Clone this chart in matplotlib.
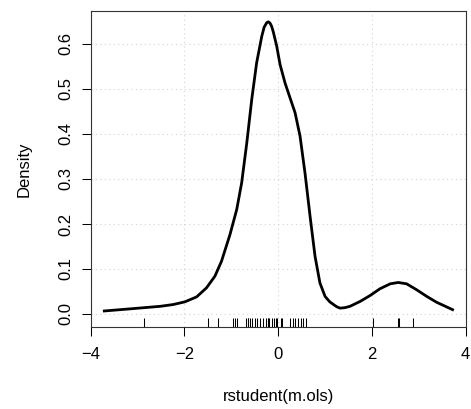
import matplotlib
matplotlib.use("Agg")
import matplotlib.pyplot as plt

# Density curve
dens_x = [-3.71, -3.09, -2.52, -2.24, -1.99, -1.74, -1.53, -1.35, -1.21, -1.03,
          -0.885, -0.78, -0.67, -0.565, -0.46, -0.35, -0.30, -0.245, -0.21, -0.174,
          -0.14, -0.103, -0.032, 0.04, 0.146, 0.253, 0.36, 0.466, 0.572, 0.68,
          0.786, 0.89, 1.0, 1.1, 1.18, 1.25, 1.32, 1.42, 1.53, 1.75,
          1.96, 2.17, 2.39, 2.56, 2.74, 2.95, 3.17, 3.38, 3.72]
dens_y = [0.0067, 0.012, 0.017, 0.021, 0.027, 0.038, 0.058, 0.084, 0.117, 0.176,
          0.232, 0.291, 0.380, 0.476, 0.558, 0.617, 0.637, 0.647, 0.649, 0.646,
          0.639, 0.626, 0.595, 0.554, 0.513, 0.480, 0.447, 0.395, 0.313, 0.217,
          0.128, 0.069, 0.039, 0.027, 0.021, 0.016, 0.013, 0.014, 0.017, 0.028,
          0.041, 0.056, 0.067, 0.070, 0.067, 0.054, 0.039, 0.026, 0.0096]

rug_x = [-2.863, -1.504, -1.284, -0.958, -0.928, -0.885, -0.687, -0.651, -0.638,
         -0.602, -0.552, -0.488, -0.445, -0.388, -0.331, -0.26, -0.224, -0.215,
         -0.203, -0.139, -0.083, -0.053, -0.032, 0.053, 0.088, 0.252, 0.309,
         0.358, 0.429, 0.487, 0.536, 0.587, 2.03, 2.55, 2.57, 2.87]

x_ticks = [-4, -2, 0, 2, 4]
x_tick_labels = ["\u22124", "\u22122", "0", "2", "4"]
y_ticks = [0.0, 0.1, 0.2, 0.3, 0.4, 0.5, 0.6]
y_tick_labels = ["0.0", "0.1", "0.2", "0.3", "0.4", "0.5", "0.6"]

plt.rcParams['font.family'] = ['Liberation Sans', 'DejaVu Sans']

fig = plt.figure(figsize=(4.71, 4.09), dpi=100)
ax = fig.add_axes([90.7 / 471, (409 - 327) / 409, (465.7 - 90.7) / 471, (327 - 11) / 409])

ax.set_xlim(-4.0, 4.0)
ax.set_ylim(-0.0289, 0.673)

# grid
for xv in x_ticks:
    ax.axvline(xv, color='#d3d3d3', lw=0.8, ls=(0, (1, 3)), zorder=0)
for yv in y_ticks:
    ax.axhline(yv, color='#d3d3d3', lw=0.8, ls=(0, (1, 3)), zorder=0)

ax.plot(dens_x, dens_y, color='black', lw=2.0, solid_joinstyle='round', zorder=3)

ax.vlines(rug_x, 0, 0.03, transform=ax.get_xaxis_transform(), color='black', lw=0.75, zorder=3)

ax.set_xticks(x_ticks)
ax.set_xticklabels(x_tick_labels)
ax.set_yticks(y_ticks)
ax.set_yticklabels(y_tick_labels, rotation=90, va='center')

ax.tick_params(axis='both', direction='out', length=6.5, width=0.75, color='black',
               labelsize=12)
ax.tick_params(axis='x', pad=8)
ax.tick_params(axis='y', pad=6)

for sp in ax.spines.values():
    sp.set_color('#333333')
    sp.set_linewidth(0.8)

ax.set_xlabel("rstudent(m.ols)", fontsize=12, labelpad=19)
ax.set_ylabel("Density", fontsize=12, labelpad=19)

fig.savefig("out.png", dpi=100)
